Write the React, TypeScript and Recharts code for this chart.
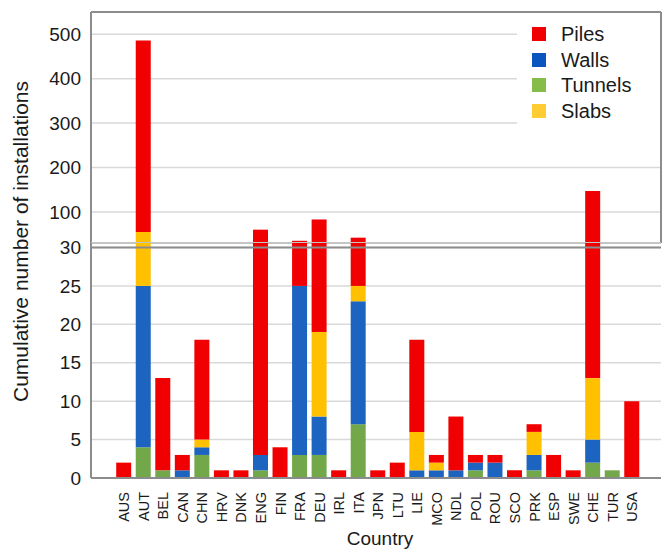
import React from "react";
import { BarChart, Bar, XAxis, YAxis, CartesianGrid, ReferenceLine } from "recharts";

const countries = ["AUS","AUT","BEL","CAN","CHN","HRV","DNK","ENG","FIN","FRA","DEU","IRL","ITA","JPN","LTU","LIE","MCO","NDL","POL","ROU","SCO","PRK","ESP","SWE","CHE","TUR","USA"];
const tunnels = [0,4,1,0,3,0,0,1,0,3,3,0,7,0,0,0,0,0,1,0,0,1,0,0,2,1,0];
const walls   = [0,21,0,1,1,0,0,2,0,22,5,0,16,0,0,1,1,1,1,2,0,2,0,0,3,0,0];
const slabs   = [0,30,0,0,1,0,0,0,0,0,11,0,2,0,0,5,1,0,0,0,0,3,0,0,8,0,0];
const piles   = [2,431,12,2,13,1,1,57,4,10,64,1,17,1,2,12,1,7,1,1,1,1,3,1,134,0,10];

const topTicks = [100, 200, 300, 400, 500];
const bottomTicks = [0, 5, 10, 15, 20, 25, 30];

const COLORS = { Piles: "#f00000", Walls: "#1c64c0", Tunnels: "#72a84a", Slabs: "#ffc000" };
const LEGEND_COLORS = { Piles: "#f00000", Walls: "#0a55be", Tunnels: "#86bd4a", Slabs: "#ffcc33" };
const legendOrder = ["Piles", "Walls", "Tunnels", "Slabs"];
const stackOrder = ["Tunnels", "Walls", "Slabs", "Piles"];

const data = countries.map((c, i) => ({
  country: c,
  Tunnels: tunnels[i],
  Walls: walls[i],
  Slabs: slabs[i],
  Piles: piles[i],
}));

const FONT = "'Liberation Sans', Arial, sans-serif";
const TEXT = "#1a1a1a";
const BORDER = "#8c8c8c";
const GRID = "#d9d9d9";

const XTick = (props: any) => {
  const { x, payload } = props;
  const y = 492;
  return (
    <text
      x={x}
      y={y}
      dy="0.36em"
      transform={`rotate(-90, ${x}, ${y})`}
      textAnchor="end"
      fontSize={14.5}
      fontFamily={FONT}
      fill={TEXT}
    >
      {payload.value}
    </text>
  );
};

const yTickStyle = { fontSize: 19, fontFamily: FONT, fill: TEXT };

export default function App() {
  return (
    <div style={{ position: "absolute", left: 0, top: 0, width: 662, height: 550, background: "#fff", fontFamily: FONT }}>
      <div style={{ position: "absolute", left: 0, top: 0 }}>
        <BarChart width={662} height={246} data={data} margin={{ top: 12, right: 0, left: 0, bottom: 3 }}>
          <CartesianGrid vertical={false} stroke={GRID} strokeWidth={1.5} yAxisId="l" />
          <XAxis dataKey="country" hide padding={{ left: 23.2, right: 19.2 }} />
          <YAxis
            yAxisId="l"
            type="number"
            domain={[30, 550]}
            ticks={topTicks}
            allowDataOverflow
            interval={0}
            width={91}
            tickSize={0}
            tickMargin={10}
            tickLine={false}
            axisLine={{ stroke: BORDER, strokeWidth: 2 }}
            tick={yTickStyle}
          />
          <YAxis yAxisId="r" orientation="right" width={1} tick={false} tickLine={false} axisLine={{ stroke: BORDER, strokeWidth: 2 }} />
          {stackOrder.map((k) => (
            <Bar key={k} dataKey={k} stackId="a" yAxisId="l" fill={(COLORS as any)[k]} barSize={15} isAnimationActive={false} />
          ))}
          <ReferenceLine yAxisId="l" y={550} stroke={BORDER} strokeWidth={2} />
          <ReferenceLine yAxisId="l" y={30} stroke={BORDER} strokeWidth={2} />
        </BarChart>
      </div>
      <div style={{ position: "absolute", left: 0, top: 0 }}>
        <BarChart width={662} height={550} data={data} margin={{ top: 243, right: 1, left: 0, bottom: 0 }}>
          <CartesianGrid vertical={false} stroke={GRID} strokeWidth={1.5} />
          <XAxis
            dataKey="country"
            interval={0}
            height={72}
            padding={{ left: 23.2, right: 19.2 }}
            tickLine={false}
            axisLine={{ stroke: BORDER, strokeWidth: 2 }}
            tick={<XTick />}
          />
          <YAxis
            type="number"
            domain={[0, 30.586]}
            ticks={bottomTicks}
            allowDataOverflow
            interval={0}
            width={91}
            tickSize={0}
            tickMargin={10}
            tickLine={false}
            axisLine={{ stroke: BORDER, strokeWidth: 2 }}
            tick={yTickStyle}
          />
          {stackOrder.map((k) => (
            <Bar key={k} dataKey={k} stackId="a" fill={(COLORS as any)[k]} barSize={15} isAnimationActive={false} />
          ))}
          <ReferenceLine y={30} stroke={BORDER} strokeWidth={2} />
        </BarChart>
      </div>
      <svg width={662} height={550} style={{ position: "absolute", left: 0, top: 0, pointerEvents: "none" }}>
        <text
          x={28}
          y={241.5}
          transform="rotate(-90, 28, 241.5)"
          textAnchor="middle"
          fontSize={21}
          fontFamily={FONT}
          fill={TEXT}
        >
          Cumulative number of installations
        </text>
        <text x={380} y={545} textAnchor="middle" fontSize={19} fontFamily={FONT} fill={TEXT}>
          Country
        </text>
      </svg>
      <div style={{ position: "absolute", left: 517, top: 14, width: 143, height: 112, background: "#fff" }}>
        {legendOrder.map((k, i) => (
          <div key={k} style={{ position: "absolute", left: 0, top: 13 + i * 25.6, height: 14, width: 143 }}>
            <div style={{ position: "absolute", left: 15, top: 0, width: 14, height: 14, background: (LEGEND_COLORS as any)[k] }} />
            <div style={{ position: "absolute", left: 44, top: -5, fontSize: 20, lineHeight: "24px", color: TEXT, fontFamily: FONT }}>{k}</div>
          </div>
        ))}
      </div>
    </div>
  );
}
